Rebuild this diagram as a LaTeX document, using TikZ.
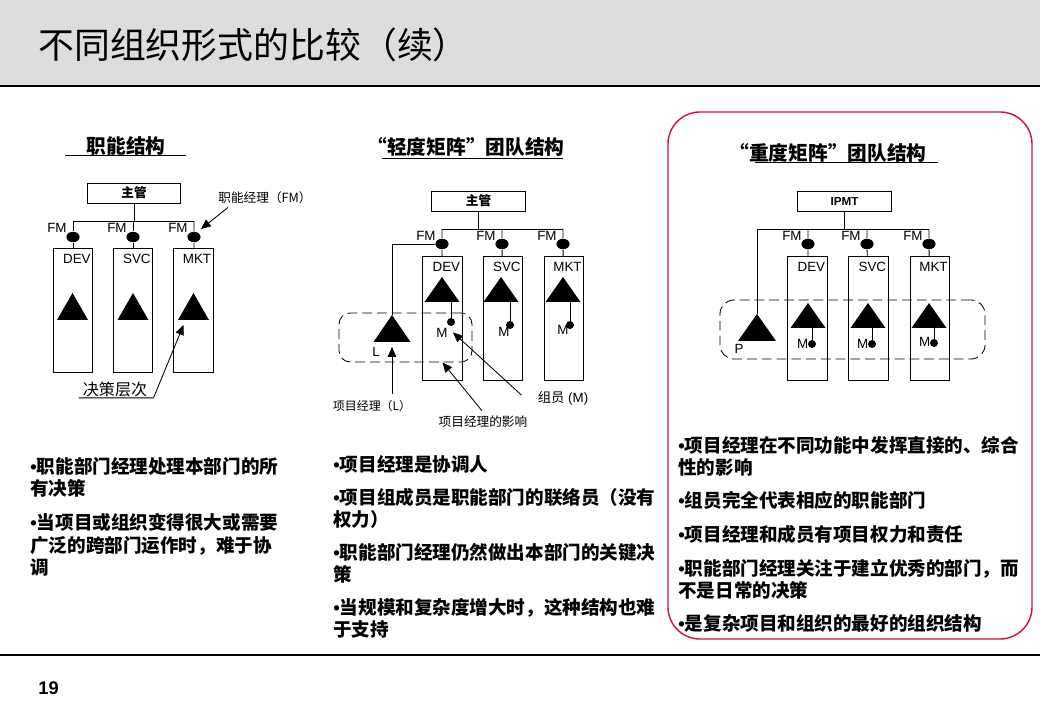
\documentclass[tikz,border=0pt]{standalone}
\usepackage{fontspec}
\setmainfont{Liberation Sans}
\newfontfamily\cjk{Noto Sans CJK SC}
\newfontfamily\latinf{Liberation Sans}
\newcommand{\bul}{{\latinf\bfseries •}}
\usepackage{xcolor}
\usetikzlibrary{arrows.meta,positioning,shapes.geometric}

\definecolor{bandgray}{HTML}{DDDDDD}
\definecolor{framered}{HTML}{D0103A}

\tikzset{
  pics/tri/.style n args={2}{code={
      \fill (-#1/2,0) -- (#1/2,0) -- (0,-#2) -- cycle;
      \coordinate (-base) at (0,0);
      \coordinate (-apex) at (0,-#2);
  }}
}

\begin{document}
\begin{tikzpicture}[x=0.025cm, y=-0.025cm, line width=0.6pt,
    chief/.style={draw, minimum width=2.33cm, minimum height=0.5cm, inner sep=0pt,
        font=\fontsize{9}{10}\selectfont\bfseries},
    dept/.style={draw, minimum width=0.98cm, minimum height=3.08cm, inner sep=0pt},
    fmdot/.style={ellipse, fill, minimum width=0.33cm, minimum height=0.26cm, inner sep=0pt},
    mdot/.style={circle, fill, minimum size=0.2cm, inner sep=0pt},
    lbl/.style={inner sep=0pt, font=\fontsize{9.5}{10}\selectfont},
    note/.style={inner sep=0pt, font=\fontsize{9}{10}\selectfont\cjk},
    head/.style={inner sep=0pt, font=\fontsize{14}{16}\selectfont\cjk\bfseries},
    bullets/.style={inner sep=0pt, anchor=north west, align=left,
        font=\fontsize{13.2}{15.8}\selectfont\cjk\bfseries},
    team/.style={draw, dash pattern=on 7pt off 3.5pt, rounded corners=8pt, inner sep=0pt},
    arr/.style={-{Triangle[length=7pt,width=6pt]}, line width=0.6pt}]

  \useasboundingbox (0,0) rectangle (1040,720);

  % Title band
  \fill[bandgray] (0,0) rectangle (1040,86);
  \draw[line width=1.4pt] (0,86) -- (1040,86);
  \node[anchor=west, inner sep=0pt, font=\fontsize{25.5}{28}\selectfont\cjk] (title) at (38,45)
    {不同组织形式的比较（续）};

  % Footer
  \draw[line width=1.2pt] (0,655) -- (1040,655);
  \node[anchor=west, inner sep=0pt, font=\fontsize{13}{14}\selectfont\bfseries] (page) at (38,688) {19};

  % Panel 1: functional structure
  \node[head] (fhead) at (126,146) {职能结构};
  \draw (65,155) -- (186,155);
  \node[chief] (fboss) at (134,193) {\cjk 主管};
  \node[dept] (fdev) at (73,310.5) {};
  \node[dept] (fsvc) at (133,310.5) {};
  \node[dept] (fmkt) at (193.5,310.5) {};
  \node[fmdot] (ffm1) at (73,237) {};
  \node[fmdot] (ffm2) at (133,237) {};
  \node[fmdot] (ffm3) at (194,237) {};
  \coordinate (fbusl) at (73,221);
  \coordinate (fbusr) at (194,221);
  \draw (fbusl) -- (fbusr);
  \draw (fboss) -- (fboss |- fbusl);
  \draw (fbusl) -- (ffm1) -- (fdev);
  \draw (ffm2 |- fbusl) -- (ffm2) -- (fsvc);
  \draw (fbusr) -- (ffm3) -- (fmkt);
  \node[lbl, anchor=east] (ffm1l) at ([shift={(-6,-9)}]ffm1.center) {FM};
  \node[lbl, anchor=east] (ffm2l) at ([shift={(-6,-9)}]ffm2.center) {FM};
  \node[lbl, anchor=east] (ffm3l) at ([shift={(-6,-9)}]ffm3.center) {FM};
  \node[lbl, anchor=north east] (fdevl) at ([shift={(-2,5)}]fdev.north east) {DEV};
  \node[lbl, anchor=north east] (fsvcl) at ([shift={(-2,5)}]fsvc.north east) {SVC};
  \node[lbl, anchor=north east] (fmktl) at ([shift={(-2,5)}]fmkt.north east) {MKT};
  \pic (ftri1) at (72.5,320) {tri={31}{27}};
  \pic (ftri2) at (133,320) {tri={31}{27}};
  \pic (ftri3) at (193.5,320) {tri={31}{27}};
  \node[note] (fmnote) at (265,198) {职能经理（FM）};
  \draw[arr] ([shift={(10,3)}]fmnote.south west) -- ([shift={(7,-8)}]ffm3.center);
  \node[note, font=\fontsize{11.4}{12}\selectfont\cjk] (levels) at (115,389) {决策层次};
  \draw[arr] ([shift={(-4,1)}]levels.south west) -- ([shift={(6,1)}]levels.south east)
    -- ([shift={(-10,5)}]ftri3-base);

  % Panel 2: lightweight matrix
  \node[head] (lhead) at (466,147) {“轻度矩阵”团队结构};
  \draw (382,158) -- (563,158);
  \node[chief] (lboss) at (478.5,201) {\cjk 主管};
  \node[dept] (ldev) at (442.5,318.5) {};
  \node[dept] (lsvc) at (503,318.5) {};
  \node[dept] (lmkt) at (564,318.5) {};
  \node[fmdot] (lfm1) at (442,244) {};
  \node[fmdot] (lfm2) at (502,244) {};
  \node[fmdot] (lfm3) at (563,244) {};
  \coordinate (lbusl) at (442,229);
  \coordinate (lbusr) at (563,229);
  \draw (lbusl) -- (lbusr);
  \draw (lboss) -- (lboss |- lbusl);
  \draw (lbusl) -- (lfm1) -- (ldev);
  \draw (lfm2 |- lbusl) -- (lfm2) -- (lsvc);
  \draw (lbusr) -- (lfm3) -- (lmkt);
  \node[lbl, anchor=east] (lfm1l) at ([shift={(-6,-8)}]lfm1.center) {FM};
  \node[lbl, anchor=east] (lfm2l) at ([shift={(-6,-8)}]lfm2.center) {FM};
  \node[lbl, anchor=east] (lfm3l) at ([shift={(-6,-8)}]lfm3.center) {FM};
  \node[lbl, anchor=north east] (ldevl) at ([shift={(-2,5)}]ldev.north east) {DEV};
  \node[lbl, anchor=north east] (lsvcl) at ([shift={(-2,5)}]lsvc.north east) {SVC};
  \node[lbl, anchor=north east] (lmktl) at ([shift={(-2,5)}]lmkt.north east) {MKT};
  \pic (ltri1) at (442,302) {tri={35}{25}};
  \pic (ltri2) at (501,302) {tri={35}{25}};
  \pic (ltri3) at (563,302) {tri={35}{25}};
  \node[mdot] (lm1) at (451,322) {};
  \node[mdot] (lm2) at (510,325) {};
  \node[mdot] (lm3) at (570,325) {};
  \draw (lm1 |- ltri1-base) -- (lm1);
  \draw (lm2 |- ltri2-base) -- (lm2);
  \draw (lm3 |- ltri3-base) -- (lm3);
  \node[lbl] (lm1l) at ([shift={(-9,11)}]lm1.center) {M};
  \node[lbl] (lm2l) at ([shift={(-6,7)}]lm2.center) {M};
  \node[lbl] (lm3l) at ([shift={(-7,5)}]lm3.center) {M};
  \node[team, minimum width=3.325cm, minimum height=1.225cm] (lteam) at (405.5,337.5) {};
  \pic (ltril) at (392,342) {tri={37}{27}};
  \draw (lfm1.west) -| (ltril-apex);
  \node[lbl] (lll) at (376,352) {L};
  \node[note, font=\fontsize{8.5}{10}\selectfont\cjk] (lpm) at (372,406) {项目经理（L）};
  \draw[arr, shorten <=4pt] (ltril-base |- lpm.north) -- ([shift={(0,5)}]ltril-base);
  \node[note] (linfl) at (483,422) {项目经理的影响};
  \draw[arr] ([shift={(-1,-5)}]linfl.north) -- (lteam.south -| ldev);
  \node[lbl] (lmem) at (563,398) {{\cjk 组员} (M)};
  \draw[arr] ([shift={(-16,-3)}]lmem.west) -- ([shift={(2,6)}]lm1.south);

  % Panel 3: heavyweight matrix
  \draw[framered, line width=1pt, rounded corners=0.8cm] (668,112) rectangle (1032,639);
  \node[head] (hhead) at (828,153) {“重度矩阵”团队结构};
  \draw (755,162) -- (938,162);
  \node[chief, font=\fontsize{8.3}{9}\selectfont\bfseries] (hboss) at (844.5,201) {IPMT};
  \node[dept] (hdev) at (807.5,318.5) {};
  \node[dept] (hsvc) at (868.5,318.5) {};
  \node[dept] (hmkt) at (930,318.5) {};
  \node[fmdot] (hfm1) at (808,244) {};
  \node[fmdot] (hfm2) at (867,244) {};
  \node[fmdot] (hfm3) at (929,244) {};
  \coordinate (hbusl) at (757,229);
  \coordinate (hbusr) at (929,229);
  \draw (hbusl) -- (hbusr);
  \draw (hboss) -- (hboss |- hbusl);
  \draw (hfm1 |- hbusl) -- (hfm1) -- (hdev);
  \draw (hfm2 |- hbusl) -- (hfm2) -- (hsvc);
  \draw (hbusr) -- (hfm3) -- (hmkt);
  \node[lbl, anchor=east] (hfm1l) at ([shift={(-6,-8)}]hfm1.center) {FM};
  \node[lbl, anchor=east] (hfm2l) at ([shift={(-6,-8)}]hfm2.center) {FM};
  \node[lbl, anchor=east] (hfm3l) at ([shift={(-6,-8)}]hfm3.center) {FM};
  \node[lbl, anchor=north east] (hdevl) at ([shift={(-2,5)}]hdev.north east) {DEV};
  \node[lbl, anchor=north east] (hsvcl) at ([shift={(-2,5)}]hsvc.north east) {SVC};
  \node[lbl, anchor=north east] (hmktl) at ([shift={(-2,5)}]hmkt.north east) {MKT};
  \node[team, minimum width=6.625cm, minimum height=1.475cm, rounded corners=10pt] (hteam) at (852.5,329.5) {};
  \pic (htri1) at (808,328) {tri={35}{25}};
  \pic (htri2) at (868,328) {tri={35}{25}};
  \pic (htri3) at (929,328) {tri={35}{25}};
  \node[mdot] (hm1) at (812,344) {};
  \node[mdot] (hm2) at (872,344) {};
  \node[mdot] (hm3) at (934,343) {};
  \draw (hm1 |- htri1-base) -- (hm1);
  \draw (hm2 |- htri2-base) -- (hm2);
  \draw (hm3 |- htri3-base) -- (hm3);
  \node[lbl, anchor=east] (hm1l) at ([shift={(1,0)}]hm1.west) {M};
  \node[lbl, anchor=east] (hm2l) at ([shift={(1,0)}]hm2.west) {M};
  \node[lbl, anchor=east] (hm3l) at ([shift={(1,-1)}]hm3.west) {M};
  \pic (htrip) at (757,341) {tri={38}{27}};
  \draw (hbusl) -- (htrip-apex);
  \node[lbl] (hpl) at (739,349) {P};

  % Notes under each panel
  \node[bullets] (fnotes) at (30,457)
    {\bul 职能部门经理处理本部门的所\\有决策\\[8.5pt]\bul 当项目或组织变得很大或需要\\广泛的跨部门运作时，难于协\\调};
  \node[bullets] (lnotes) at (333,455)
    {\bul 项目经理是协调人\\[7.5pt]\bul 项目组成员是职能部门的联络员（没有\\权力）\\[7.5pt]\bul 职能部门经理仍然做出本部门的关键决\\策\\[7.5pt]\bul 当规模和复杂度增大时，这种结构也难\\于支持};
  \node[bullets] (hnotes) at (678,436)
    {\bul 项目经理在不同功能中发挥直接的、综合\\性的影响\\[7.5pt]\bul 组员完全代表相应的职能部门\\[8.5pt]\bul 项目经理和成员有项目权力和责任\\[8pt]\bul 职能部门经理关注于建立优秀的部门，而\\不是日常的决策\\[8pt]\bul 是复杂项目和组织的最好的组织结构};

\end{tikzpicture}
\end{document}
